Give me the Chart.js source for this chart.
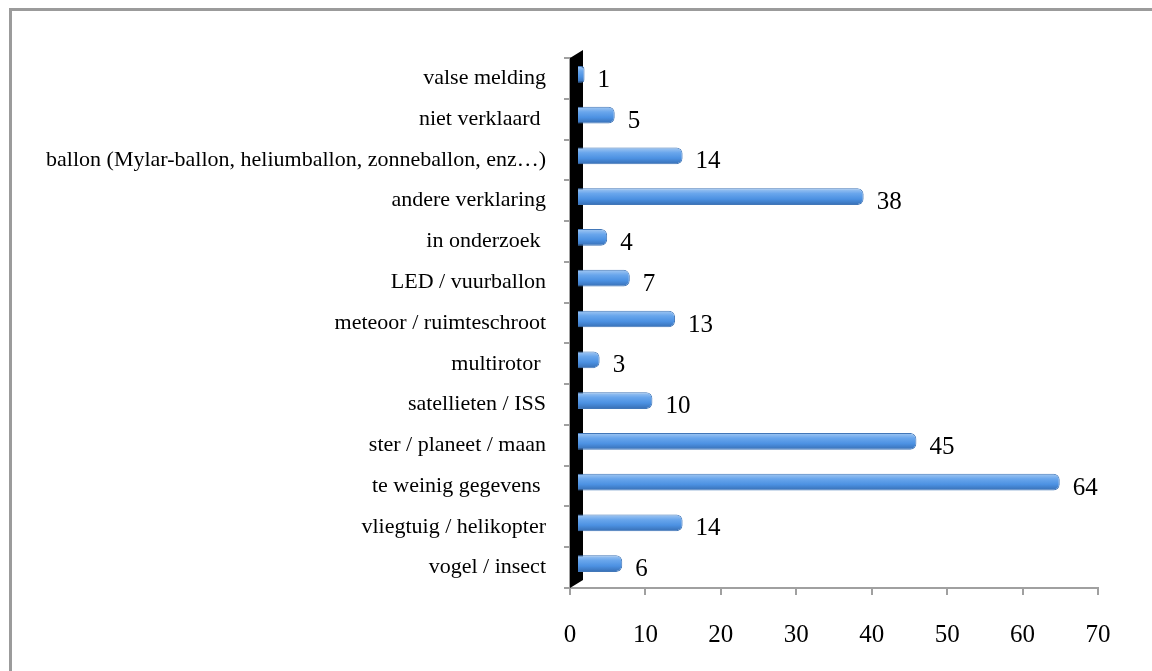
<!DOCTYPE html>
<html>
<head>
<meta charset="utf-8">
<script src="https://cdn.jsdelivr.net/npm/chart.js@4/dist/chart.umd.min.js"></script>
<style>
  body { margin: 0; background: #fff; }
  #wrap { position: relative; width: 1152px; height: 671px; overflow: hidden; }
  #frame { position: absolute; left: 9px; top: 8px; width: 1200px; height: 700px;
           border-left: 3px solid #9b9b9b; border-top: 3px solid #9b9b9b; }
  canvas { position: absolute; left: 0; top: 0; }
</style>
</head>
<body>
<div id="wrap">
  <div id="frame"></div>
  <canvas id="myChart" width="1152" height="671"></canvas>
</div>
<script>
"use strict";

// categories top to bottom, as in the picture
let categories = [
  "valse melding",
  "niet verklaard ",
  "ballon (Mylar-ballon, heliumballon, zonneballon, enz\u2026)",
  "andere verklaring",
  "in onderzoek ",
  "LED / vuurballon",
  "meteoor / ruimteschroot",
  "multirotor ",
  "satellieten / ISS",
  "ster / planeet / maan",
  "te weinig gegevens ",
  "vliegtuig / helikopter",
  "vogel / insect"
];
let counts = [1, 5, 14, 38, 4, 7, 13, 3, 10, 45, 64, 14, 6];
let xTicks = [0, 10, 20, 30, 40, 50, 60, 70];

const serif = "'Liberation Serif', 'DejaVu Serif', serif";
const depthX = 7;
const depthY = -4;

// black 3d wall behind the category axis
const wallPlugin = {
  id: "wall",
  beforeDatasetsDraw(chart) {
    const c = chart.ctx;
    const a = chart.chartArea;
    c.save();
    c.fillStyle = "#000";
    c.beginPath();
    c.moveTo(a.left, a.bottom);
    c.lineTo(a.left, a.top);
    c.lineTo(a.left + 13, a.top - 8);
    c.lineTo(a.left + 13, a.bottom - 8);
    c.closePath();
    c.fill();
    c.restore();
    // shift bars a bit for the depth look
    c.save();
    c.translate(depthX, depthY);
  },
  afterDatasetsDraw(chart) {
    const c = chart.ctx;
    c.restore();
    // value labels next to bars
    const meta = chart.getDatasetMeta(0);
    c.save();
    c.font = "25px " + serif;
    c.fillStyle = "#000";
    c.textAlign = "left";
    c.textBaseline = "middle";
    meta.data.forEach(function (bar, i) {
      c.fillText(String(counts[i]), bar.x + depthX + 13, bar.y + 2);
    });
    c.restore();
  }
};

function barFill(context) {
  const chart = context.chart;
  const y = chart.scales.y;
  if (!y || context.type !== "data") {
    return "#4f8fdb";
  }
  const yc = y.getPixelForValue(context.dataIndex);
  if (!isFinite(yc)) {
    return "#4f8fdb";
  }
  const g = chart.ctx.createLinearGradient(0, yc - 8, 0, yc + 8);
  g.addColorStop(0, "#9fc6f2");
  g.addColorStop(0.3, "#69a6ec");
  g.addColorStop(0.65, "#4c91e2");
  g.addColorStop(1, "#3870b6");
  return g;
}

const config = {
  type: "bar",
  data: {
    labels: categories,
    datasets: [
      {
        label: "aantal",
        data: counts,
        backgroundColor: barFill,
        borderColor: "#4277b8",
        borderWidth: 1,
        borderSkipped: "start",
        borderRadius: { topRight: 6, bottomRight: 6 },
        barPercentage: 0.41,
        categoryPercentage: 1
      }
    ]
  },
  plugins: [wallPlugin],
  options: {
    indexAxis: "y",
    responsive: false,
    animation: false,
    devicePixelRatio: 1,
    layout: { padding: { left: 0, right: 54, top: 58, bottom: 0 } },
    plugins: {
      legend: { display: false },
      tooltip: { enabled: false }
    },
    scales: {
      x: {
        min: 0,
        max: 70,
        afterBuildTicks(scale) {
          scale.ticks = xTicks.map(function (v) { return { value: v }; });
        },
        afterFit(scale) {
          scale.height = 83;
        },
        border: { display: true, color: "#a0a0a0", width: 2 },
        grid: { drawOnChartArea: false, color: "#a0a0a0", tickLength: 7, lineWidth: 2 },
        ticks: {
          color: "#000",
          font: { family: serif, size: 25 },
          padding: 25,
          maxRotation: 0
        }
      },
      y: {
        afterFit(scale) {
          scale.width = 570;
        },
        border: { display: true, color: "#a0a0a0", width: 2 },
        grid: { drawOnChartArea: false, color: "#a0a0a0", tickLength: 6, lineWidth: 2, offset: true },
        ticks: {
          color: "#000",
          font: { family: serif, size: 22 },
          padding: 18
        }
      }
    }
  }
};

const canvasChart = document.getElementById("myChart");
new Chart(canvasChart, config);
</script>
</body>
</html>
